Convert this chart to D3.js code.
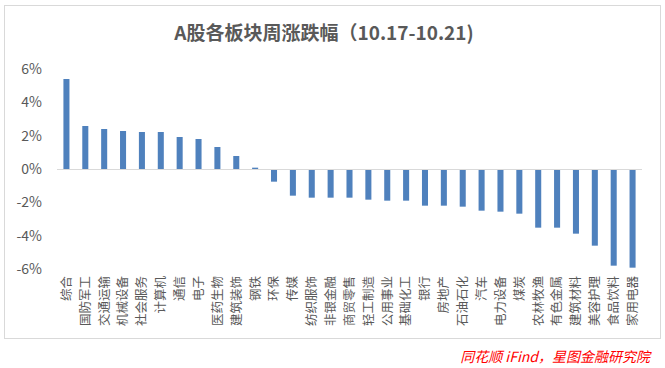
<!DOCTYPE html>
<html><head><meta charset="utf-8">
<script src="https://cdn.jsdelivr.net/npm/d3@7/dist/d3.min.js"></script>
<style>body{margin:0;background:#fff}svg{display:block}</style>
</head><body>
<script>
const categories = ["综合","国防军工","交通运输","机械设备","社会服务","计算机","通信","电子","医药生物","建筑装饰","钢铁","环保","传媒","纺织服饰","非银金融","商贸零售","轻工制造","公用事业","基础化工","银行","房地产","石油石化","汽车","电力设备","煤炭","农林牧渔","有色金属","建筑材料","美容护理","食品饮料","家用电器"];
const values = [5.4,2.58,2.4,2.28,2.22,2.22,1.92,1.8,1.32,0.78,0.08,-0.76,-1.6,-1.72,-1.72,-1.72,-1.84,-1.9,-1.9,-2.2,-2.2,-2.26,-2.5,-2.56,-2.68,-3.52,-3.52,-3.88,-4.6,-5.8,-5.92];
const yTicks = [6,4,2,0,-2,-4,-6];
const title = "A股各板块周涨跌幅（10.17-10.21)";
const source = "同花顺 iFind，星图金融研究院";

const W = 665, H = 368;
const font = "'Noto Sans CJK SC','Noto Sans',sans-serif";
const svg = d3.select("body").append("svg").attr("width", W).attr("height", H);

svg.append("rect").attr("x", 4.5).attr("y", 5.5).attr("width", 656).attr("height", 333)
  .attr("fill", "#fff").attr("stroke", "#d9d9d9").attr("stroke-width", 1);

svg.append("text").attr("x", 324).attr("y", 40).attr("text-anchor", "middle")
  .attr("font-family", font).attr("font-size", 19).attr("font-weight", "bold")
  .attr("fill", "#595959").text(title);

const x = d3.scaleBand().domain(categories).range([57, 642]).paddingInner(0.68).paddingOuter(0.34);
const y = d3.scaleLinear().domain([-6, 6]).range([269, 69]);

// y axis labels
const yAxis = d3.axisLeft(y).tickValues(yTicks).tickSize(0).tickPadding(0).tickFormat(d => d + "%");
const gy = svg.append("g").attr("transform", "translate(42,0)").call(yAxis);
gy.select(".domain").remove();
gy.selectAll("text").attr("font-family", font).attr("font-size", 14).attr("fill", "#595959");

// bars
svg.append("g").selectAll("rect").data(values).join("rect")
  .attr("x", (d, i) => x(categories[i]))
  .attr("width", x.bandwidth())
  .attr("y", d => y(Math.max(0, d)))
  .attr("height", d => Math.abs(y(d) - y(0)))
  .attr("fill", "#4f81bd");

// zero line
svg.append("line").attr("x1", 57).attr("x2", 642).attr("y1", y(0) + 0.5).attr("y2", y(0) + 0.5)
  .attr("stroke", "#d9d9d9").attr("stroke-width", 1);

// x labels via axis
const xAxis = d3.axisBottom(x).tickSize(0).tickPadding(0);
const gx = svg.append("g").attr("transform", "translate(0,276)").call(xAxis);
gx.select(".domain").remove();
gx.selectAll("text")
  .attr("font-family", font).attr("font-size", 12.5).attr("fill", "#595959")
  .attr("transform", "rotate(-90)")
  .attr("text-anchor", "end")
  .attr("x", 0).attr("y", 0).attr("dy", "0.35em");

svg.append("text").attr("x", 650).attr("y", 362).attr("text-anchor", "end")
  .attr("font-family", font).attr("font-size", 14).attr("font-style", "italic")
  .attr("fill", "#ff0000").text(source);
</script>
</body></html>
